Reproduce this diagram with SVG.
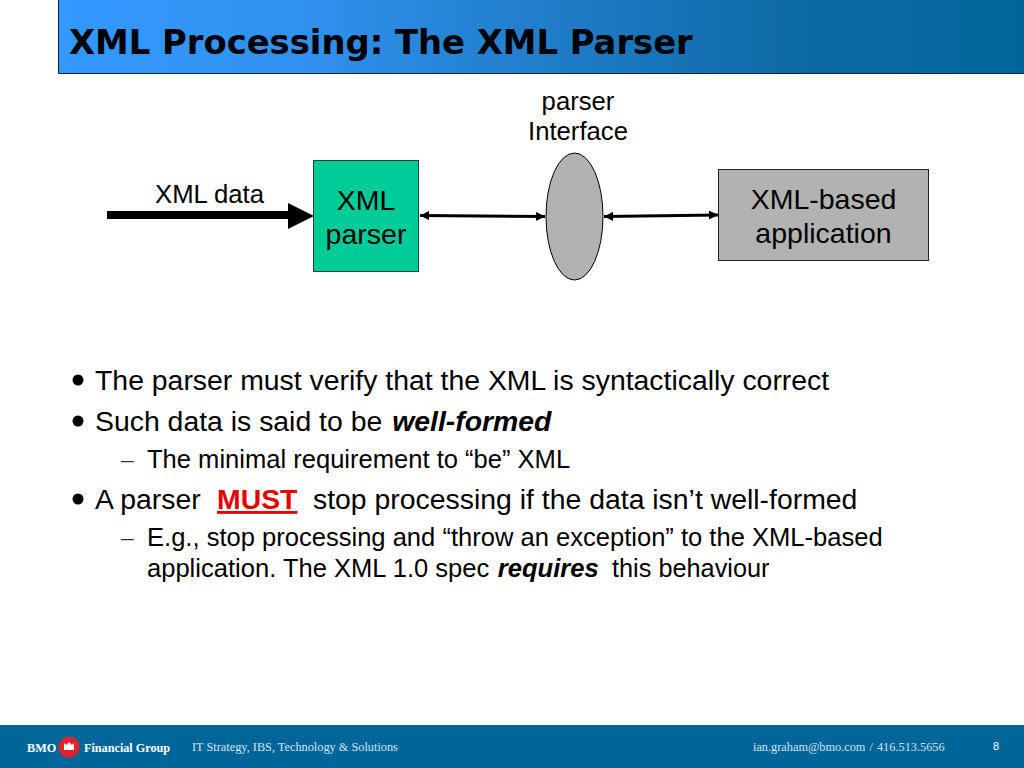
<svg xmlns="http://www.w3.org/2000/svg" width="1024" height="768" viewBox="0 0 1024 768">
<style>
text{font-family:"Liberation Sans",Arial,sans-serif;fill:#000}
.d{font-size:28.500px;text-anchor:middle}
.l{font-size:25.700px;text-anchor:middle}
.b{font-size:28.400px}
.s{font-size:25.550px}
.t{font-family:"DejaVu Sans",Verdana,sans-serif;font-weight:bold;font-size:33.800px}
.da{font-family:"Liberation Serif","Times New Roman",serif;font-size:25px;fill:#333}
.f{font-family:"Liberation Serif","Times New Roman",serif;font-size:12.300px;fill:#cfe3f0}
.w{font-family:"Liberation Serif","Times New Roman",serif;font-weight:bold;font-size:12.200px;fill:#fff}
.bi{font-weight:bold;font-style:italic}
.m{font-weight:bold;fill:#e60000}
.n{fill:none;stroke:#000;stroke-width:3}
</style>
<defs>
<linearGradient id="hg" x1="0" x2="1" y1="0" y2="0">
<stop offset="0" stop-color="#3399ff"/><stop offset=".25" stop-color="#3191ee"/><stop offset=".75" stop-color="#0f6aa6"/><stop offset="1" stop-color="#006699"/>
</linearGradient>
<marker id="a" viewBox="0 0 10 10" refX="10" refY="5" markerWidth="10" markerHeight="9" markerUnits="userSpaceOnUse" orient="auto-start-reverse"><path d="M0 0L10 5L0 10z" fill="#000"/></marker>
</defs>
<rect width="1024" height="768" fill="#fff"/>
<g id="header">
<rect x="58.500" y="-1" width="967" height="74.500" fill="url(#hg)" stroke="#10243f" stroke-width="1"/>
<text class="t" x="69" y="54">XML Processing: The XML Parser</text>
</g>
<g id="connectors">
<rect x="107" y="211" width="182" height="8"/>
<path d="M288 203L314 216L288 229z"/>
<path class="n" d="M420 215.500L545 216.500" marker-start="url(#a)" marker-end="url(#a)"/>
<path class="n" d="M604 216.500L718 215" marker-start="url(#a)" marker-end="url(#a)"/>
</g>
<g id="label-xml-data"><text class="l" x="209.500" y="203">XML data</text></g>
<g id="node-xml-parser">
<rect x="313.500" y="160.500" width="105" height="111" fill="#00cc99" stroke="#1f3f37"/>
<text class="d" x="366" y="210">XML</text><text class="d" x="366" y="244">parser</text>
</g>
<g id="node-interface">
<ellipse cx="574.500" cy="216.500" rx="28.500" ry="63.500" fill="#b2b2b2" stroke="#000"/>
<text class="l" x="578" y="110">parser</text>
<text class="l" x="578" y="140">Interface</text>
</g>
<g id="node-application">
<rect x="718.500" y="169.500" width="210" height="91" fill="#b2b2b2" stroke="#222"/>
<text class="d" x="823.500" y="209">XML-based</text><text class="d" x="823.500" y="243">application</text>
</g>
<g id="body">
<circle cx="78" cy="380" r="5.500"/><circle cx="78" cy="421" r="5.500"/><circle cx="78" cy="499" r="5.500"/>
<text class="b" x="95" y="390">The parser must verify that the XML is syntactically correct</text>
<text class="b" x="95" y="431">Such data is said to be <tspan class="bi" dx="2">well-formed</tspan></text>
<text class="da" x="121" y="468">–</text>
<text class="s" x="147" y="468">The minimal requirement to “be” XML</text>
<text class="b" x="95" y="509">A parser</text>
<text class="b m" x="217" y="509" text-decoration="underline">MUST</text>
<text class="b" x="313" y="509">stop processing if the data isn’t well-formed</text>
<text class="da" x="121" y="546">–</text>
<text class="s" x="147" y="546">E.g., stop processing and “throw an exception” to the XML-based</text>
<text class="s" x="147" y="577">application. The XML 1.0 spec <tspan class="bi" dx="1.500">requires</tspan></text>
<text x="612" y="577" font-size="25.300px">this behaviour</text>
</g>
<g id="footer">
<rect y="725" width="1024" height="43" fill="#006699"/>
<text class="w" x="27" y="752">BMO</text>
<circle cx="69" cy="747" r="10.500" fill="#e2202c"/>
<path d="M64 750V743L66 745L69 742L72 745L74 743V750z" fill="#fff"/>
<text class="w" x="84" y="752">Financial Group</text>
<text class="f" x="192" y="751">IT Strategy, IBS, Technology &amp; Solutions</text>
<text class="f" x="753" y="751" word-spacing="1">ian.graham@bmo.com / 416.513.5656</text>
<text x="993" y="750" font-size="11px" style="fill:#fff">8</text>
</g>
</svg>
